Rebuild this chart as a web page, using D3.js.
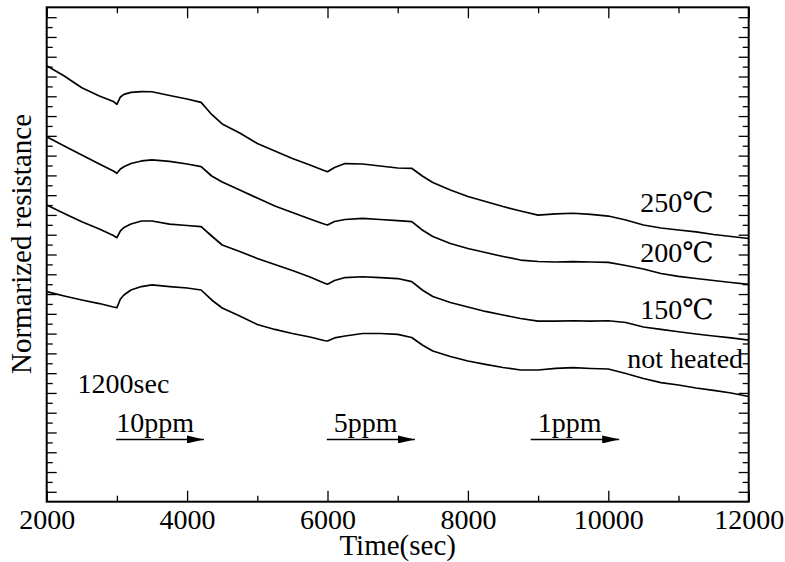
<!DOCTYPE html>
<html>
<head>
<meta charset="utf-8">
<script src="https://cdn.jsdelivr.net/npm/d3@7"></script>
<style>
  html, body { margin: 0; padding: 0; background: #fff; }
  svg text { font-family: "Liberation Serif", "DejaVu Serif", "Times New Roman", serif; fill: #000; }
</style>
</head>
<body>
<svg id="chart" width="785" height="562"></svg>
<script>
// Sampling times (sec)
const times = [2000, 2250, 2500, 2750, 2950, 3000, 3050, 3100, 3200, 3350, 3500, 3750, 4000, 4200,
  4350, 4500, 4750, 5000, 5250, 5500, 5750, 5950, 6000, 6100, 6250, 6500, 6750, 7000, 7200,
  7350, 7500, 7750, 8000, 8250, 8500, 8750, 9000, 9250, 9500, 9750, 10000, 10250, 10500,
  10750, 11000, 11250, 11500, 11750, 12000];

// Normalized resistance (arbitrary units, curves offset vertically)
const r250 = [44.09, 43.05, 41.87, 41.03, 40.47, 40.19, 40.93, 41.20, 41.40, 41.48, 41.46, 41.08, 40.73, 40.39,
  39.16, 38.20, 37.29, 36.23, 35.47, 34.71, 34.05, 33.50, 33.37, 33.80, 34.20, 34.15, 33.95, 33.75, 33.72,
  32.94, 32.28, 31.52, 30.87, 30.36, 29.85, 29.40, 28.99, 29.10, 29.17, 29.05, 28.89, 28.49, 27.98,
  27.68, 27.48, 27.28, 27.02, 26.82, 26.62];
const r200 = [36.91, 35.97, 35.06, 34.15, 33.44, 33.21, 33.65, 33.88, 34.20, 34.46, 34.56, 34.41, 34.15, 33.88,
  32.94, 32.33, 31.52, 30.71, 29.90, 29.25, 28.59, 28.08, 27.98, 28.34, 28.54, 28.66, 28.54, 28.42, 28.32,
  27.48, 26.82, 26.11, 25.61, 25.20, 24.80, 24.44, 24.29, 24.24, 24.27, 24.24, 24.21, 23.89, 23.53,
  23.08, 22.78, 22.57, 22.37, 22.17, 21.97];
const r150 = [30.01, 29.15, 28.32, 27.58, 26.92, 26.70, 27.38, 27.73, 28.08, 28.39, 28.39, 28.08, 27.93, 27.81,
  26.87, 25.96, 25.30, 24.60, 23.99, 23.38, 22.72, 22.12, 21.99, 22.37, 22.67, 22.75, 22.67, 22.57, 22.25,
  21.41, 20.75, 20.15, 19.69, 19.24, 18.88, 18.53, 18.27, 18.27, 18.30, 18.27, 18.30, 18.12, 17.67,
  17.42, 17.19, 16.96, 16.76, 16.56, 16.35];
const rNotHeated = [21.24, 20.80, 20.40, 20.04, 19.69, 19.62, 20.50, 20.90, 21.41, 21.76, 21.92, 21.76, 21.61, 21.41,
  20.40, 19.59, 18.78, 17.92, 17.42, 17.01, 16.66, 16.30, 16.25, 16.56, 16.76, 17.01, 17.01, 16.93, 16.61,
  15.85, 15.24, 14.68, 14.23, 13.88, 13.57, 13.32, 13.32, 13.49, 13.55, 13.47, 13.42, 12.97, 12.46,
  12.05, 11.80, 11.50, 11.25, 10.99, 10.64];

const seriesNames = ["250℃", "200℃", "150℃", "not heated"];
const seriesValues = [r250, r200, r150, rNotHeated];
// Label anchor (right end) positions in data units
const labelTimes = [11500, 11500, 11500, 11920];
const labelValues = [29.3, 24.2, 18.5, 13.5];

// Gas exposure markers
const doseLabels = ["10ppm", "5ppm", "1ppm"];
const doseStart = [2990, 5990, 8895];
const doseEnd = [4240, 7245, 10155];
const doseLevel = 6.3;
const durationLabel = "1200sec";

const xMajorTicks = [2000, 4000, 6000, 8000, 10000, 12000];
const xMinorTicks = [3000, 5000, 7000, 9000, 11000];
const yMajorTicks = d3.range(1, 50, 2);
const yMinorTicks = d3.range(2, 50, 2);

const W = 785, H = 562;
const margin = { left: 46.7, top: 7.3, right: W - 748.7, bottom: H - 501.7 };
const iw = W - margin.left - margin.right;
const ih = H - margin.top - margin.bottom;
const fs = 28;

const svg = d3.select("#chart");
const g = svg.append("g").attr("transform", `translate(${margin.left},${margin.top})`);

const x = d3.scaleLinear().domain([2000, 12000]).range([0, iw]);
const y = d3.scaleLinear().domain([0, 50]).range([ih, 0]);

function styleAxis(sel) {
  sel.select(".domain").remove();
  sel.selectAll(".tick line").attr("stroke", "#000").attr("stroke-width", 1.3);
}

// Bottom axis with labels
const bottom = g.append("g").attr("transform", `translate(0,${ih})`)
  .call(d3.axisBottom(x).tickValues(xMajorTicks).tickSize(-11).tickPadding(7).tickFormat(d3.format("d")));
styleAxis(bottom);
bottom.selectAll("text").attr("font-size", fs).attr("font-family", '"Liberation Serif", serif');
g.append("g").attr("transform", `translate(0,${ih})`)
  .call(d3.axisBottom(x).tickValues(xMinorTicks).tickSize(-6).tickFormat(""))
  .call(styleAxis);

// Top axis ticks
g.append("g").call(d3.axisTop(x).tickValues(xMajorTicks).tickSize(-11).tickFormat("")).call(styleAxis);
g.append("g").call(d3.axisTop(x).tickValues(xMinorTicks).tickSize(-6).tickFormat("")).call(styleAxis);

// Left and right axis ticks
g.append("g").call(d3.axisLeft(y).tickValues(yMajorTicks).tickSize(-10).tickFormat("")).call(styleAxis);
g.append("g").call(d3.axisLeft(y).tickValues(yMinorTicks).tickSize(-6).tickFormat("")).call(styleAxis);
g.append("g").attr("transform", `translate(${iw},0)`)
  .call(d3.axisRight(y).tickValues(yMajorTicks).tickSize(-10).tickFormat("")).call(styleAxis);
g.append("g").attr("transform", `translate(${iw},0)`)
  .call(d3.axisRight(y).tickValues(yMinorTicks).tickSize(-6).tickFormat("")).call(styleAxis);

// Frame
g.append("rect").attr("x", 0).attr("y", 0).attr("width", iw).attr("height", ih)
  .attr("fill", "none").attr("stroke", "#000").attr("stroke-width", 2);

// Curves
const line = d3.line().x((d, i) => x(times[i])).y(d => y(d));
g.selectAll("path.curve").data(seriesValues).join("path")
  .attr("class", "curve")
  .attr("d", line)
  .attr("fill", "none").attr("stroke", "#000").attr("stroke-width", 1.7)
  .attr("stroke-linejoin", "round");

// Series labels
g.selectAll("text.series").data(seriesNames).join("text")
  .attr("class", "series")
  .attr("x", (d, i) => x(labelTimes[i]))
  .attr("y", (d, i) => y(labelValues[i]))
  .attr("text-anchor", "end")
  .attr("font-size", fs)
  .text(d => d);

// Exposure arrows
const defs = svg.append("defs");
defs.append("marker").attr("id", "head").attr("viewBox", "0 0 10 10")
  .attr("refX", 10).attr("refY", 5).attr("markerWidth", 17).attr("markerHeight", 8)
  .attr("markerUnits", "userSpaceOnUse").attr("orient", "auto")
  .attr("preserveAspectRatio", "none")
  .append("path").attr("d", "M0,0 L10,5 L0,10 Z").attr("fill", "#000");

g.selectAll("line.dose").data(doseLabels).join("line")
  .attr("class", "dose")
  .attr("x1", (d, i) => x(doseStart[i])).attr("x2", (d, i) => x(doseEnd[i]))
  .attr("y1", y(doseLevel)).attr("y2", y(doseLevel))
  .attr("stroke", "#000").attr("stroke-width", 1.5)
  .attr("marker-end", "url(#head)");

g.selectAll("text.dose").data(doseLabels).join("text")
  .attr("class", "dose")
  .attr("x", (d, i) => x(doseStart[i]) + (i === 0 ? 0 : 7))
  .attr("y", y(doseLevel) - 7)
  .attr("font-size", fs)
  .text(d => d);

g.append("text")
  .attr("x", x(2440)).attr("y", y(11.0))
  .attr("font-size", fs)
  .text(durationLabel);

// Axis titles
svg.append("text")
  .attr("x", margin.left + iw / 2).attr("y", 555)
  .attr("text-anchor", "middle").attr("font-size", 29)
  .text("Time(sec)");

svg.append("text")
  .attr("transform", `translate(31,244) rotate(-90)`)
  .attr("text-anchor", "middle").attr("font-size", 29)
  .text("Normarized resistance");
</script>
</body>
</html>
